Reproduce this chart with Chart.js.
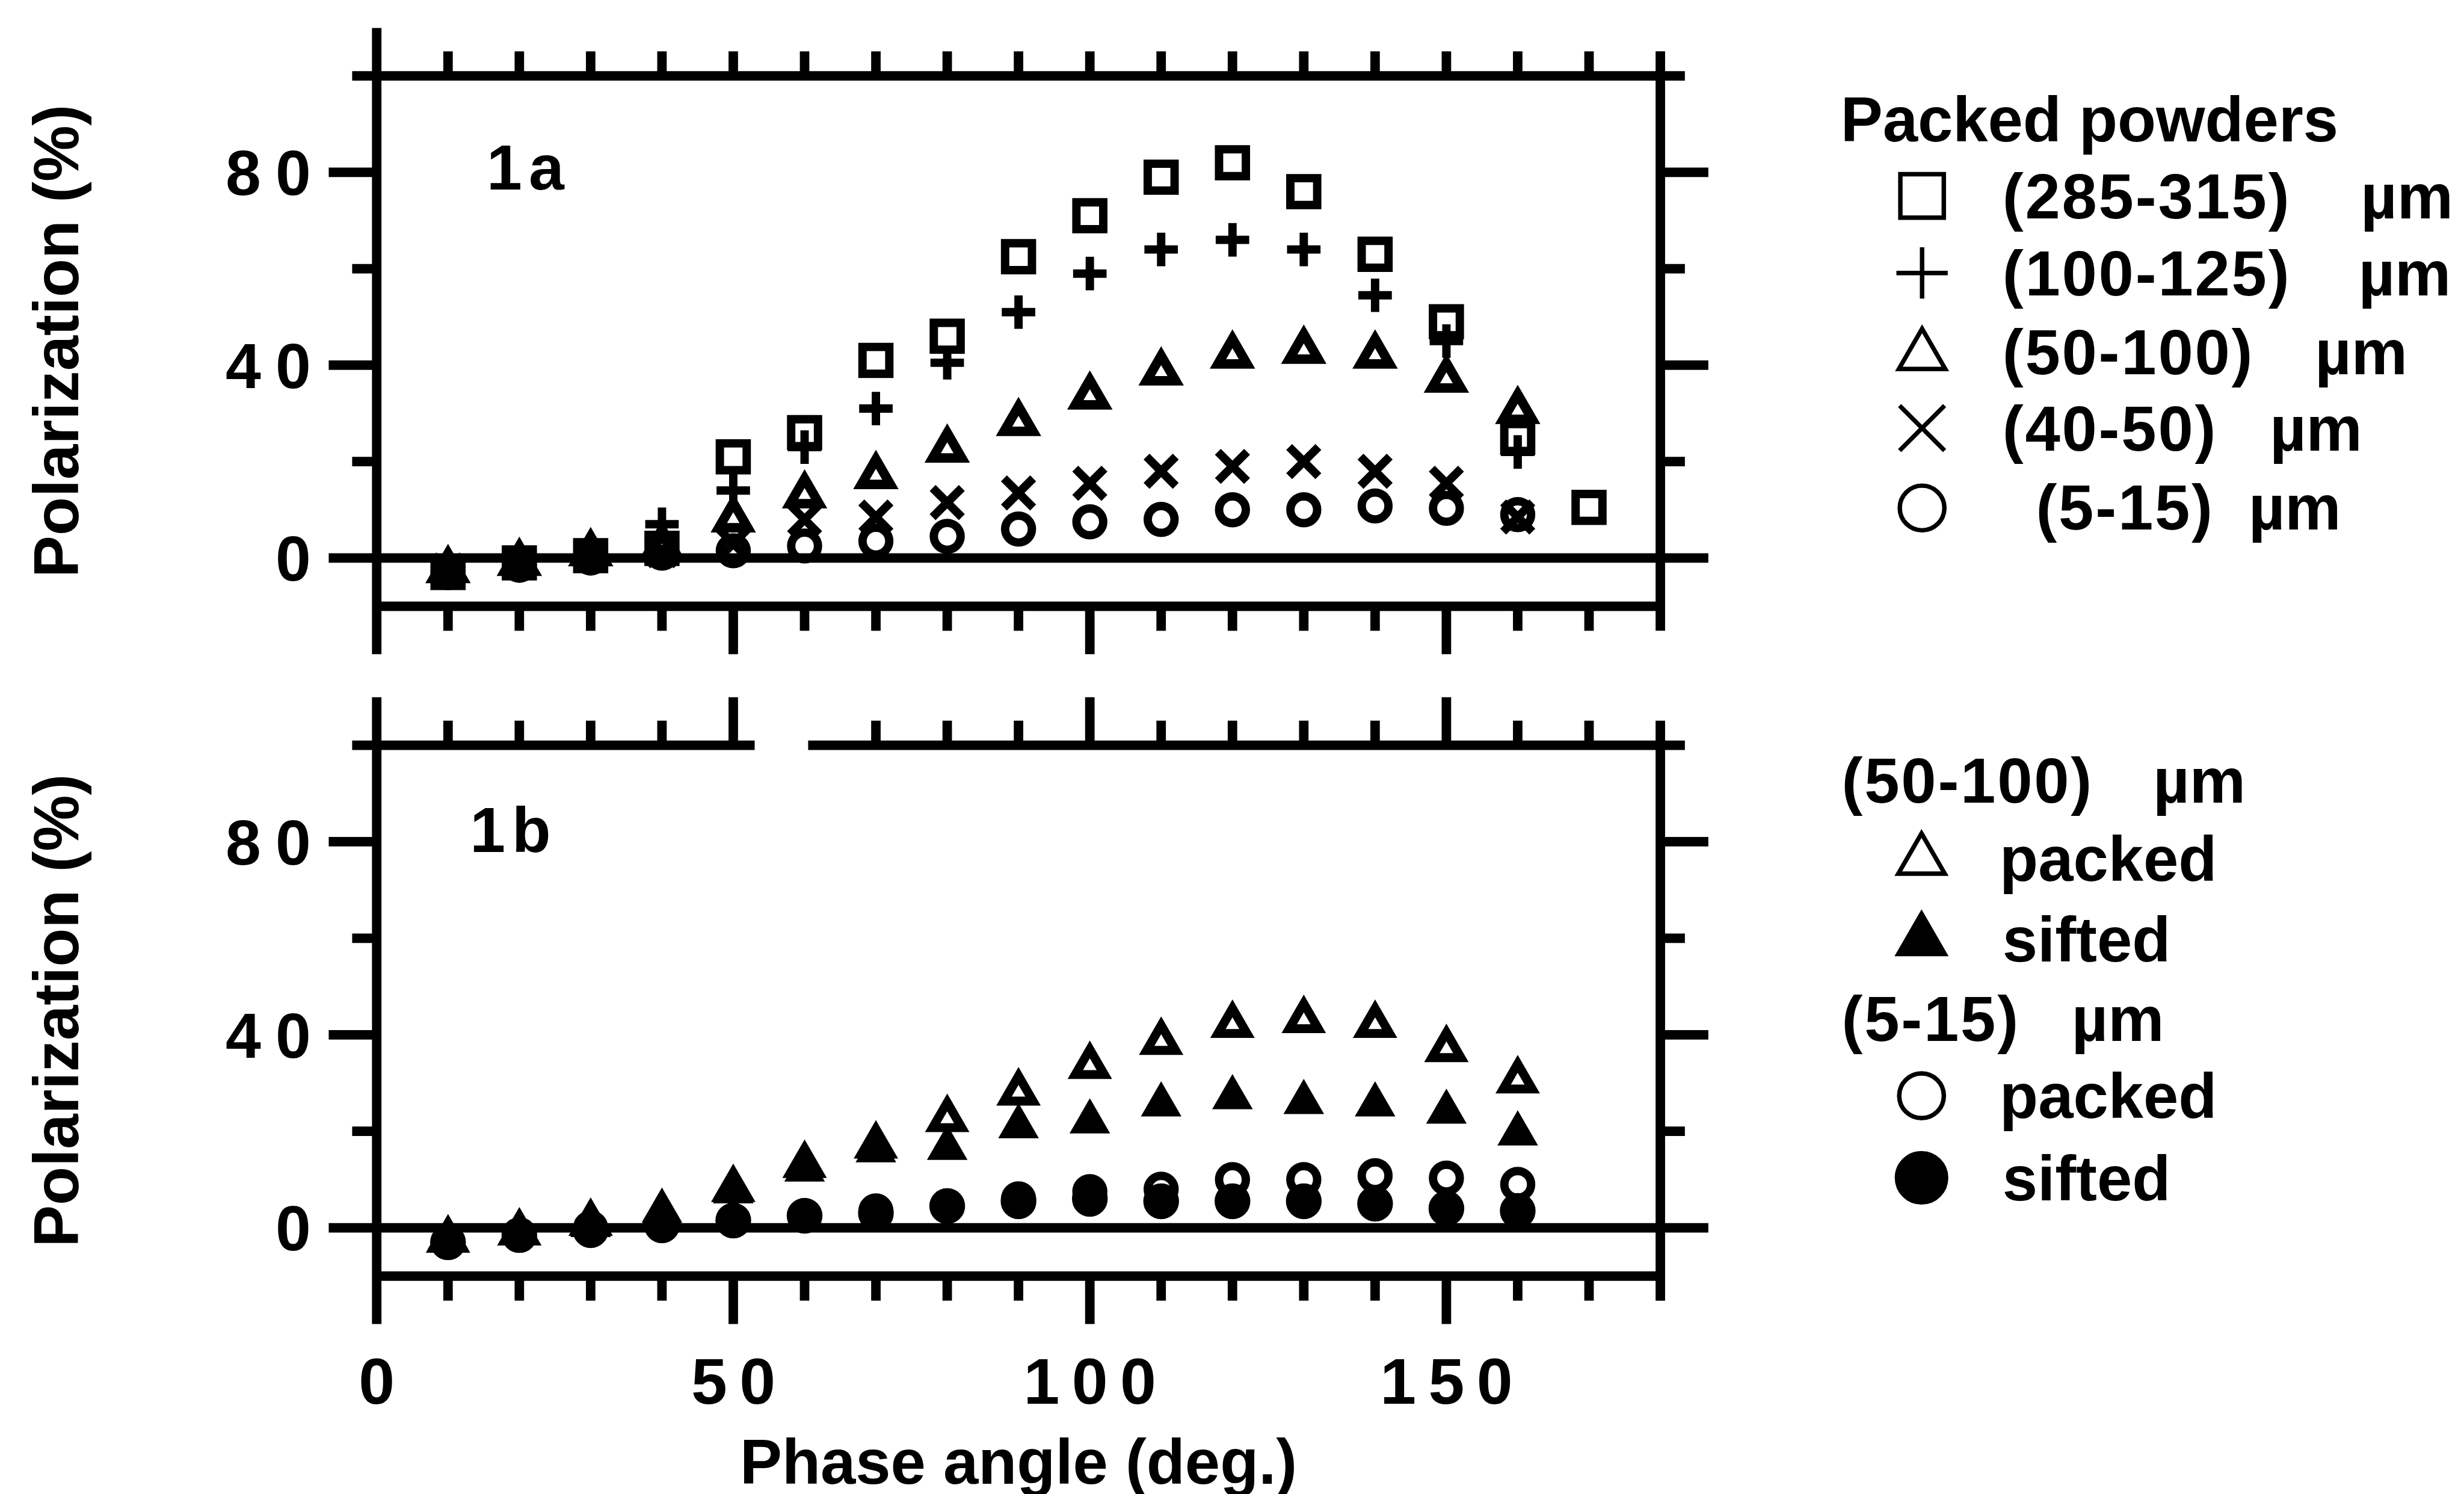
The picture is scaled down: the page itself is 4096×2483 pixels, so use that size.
<!DOCTYPE html>
<html>
<head>
<meta charset="utf-8">
<title>Polarization vs phase angle</title>
<script src="https://cdn.jsdelivr.net/npm/chart.js@4.4.1/dist/chart.umd.min.js"></script>
<style>
  html, body { margin: 0; padding: 0; background: #fff; }
  #wrap { position: relative; width: 4096px; height: 2483px; overflow: hidden; background: #fff; }
  #wrap canvas { position: absolute; left: 0; top: 0; }
</style>
</head>
<body>
<div id="wrap">
  <canvas id="panelA" width="4096" height="2483"></canvas>
  <canvas id="panelB" width="4096" height="2483"></canvas>
</div>
<script>
// page size and layout unit (layout numbers below are in units, scaled to px)
const W = 4096, H = 2483;
const U = 4096 / 4415;
const FONT = '"Liberation Sans", Arial, Helvetica, sans-serif';
const INK = '#000';

// phase angle (deg.)
const phase = [10, 20, 30, 40, 50, 60, 70, 80, 90, 100, 110, 120, 130, 140, 150, 160];
const phaseCoarse = [10, 20, 30, 40, 50, 60, 70, 80, 90, 100, 110, 120, 130, 140, 150, 160, 170];

// polarization (%) of packed powders, 1a
const pol285to315 = [-3, -1, 0.5, 2, 21, 26, 41, 46, 62.5, 71, 79, 82, 76, 63, 49, 25, 10.5];
const pol100to125 = [-3, -1, 1, 7, 14, 23, 31, 40.5, 51, 59, 64, 66, 64, 54.5, 45, 22];
const pol50to100Packed = [-2.5, -1, 1, 2.5, 8, 13, 17, 22.5, 28, 33.5, 38.5, 42, 43, 42, 37, 30.5];
const pol40to50 = [-2.5, -1, 0.5, 1.5, 3, 8, 8.5, 11.5, 13.5, 15.5, 18, 19, 20, 18, 15.5, 8.5];
const pol5to15Packed = [-3, -1.5, 0, 1, 1.5, 2.5, 3.5, 4.5, 6, 7.5, 8, 10, 10, 10.8, 10.3, 9];

// packed vs sifted, 1b
const pol50to100Sifted = [-2, -1, 0.5, 3.5, 7.5, 12, 16, 16.5, 21, 22, 25.5, 27, 26, 25.5, 24, 19.5];
const pol5to15Sifted = [-3, -1.5, -0.5, 0.5, 1.5, 2.5, 3, 4.5, 5.5, 6, 5.5, 5.5, 5.5, 5, 4, 3.5];

// axes
const xRange = [0, 180];
const yRange = [-10, 100];
const xLabelTicks = [0, 50, 100, 150];
const yLabelTicks = [0, 40, 80];
const xMinorStep = 10;
const yMinorStep = 20;

// plot boxes (units)
const plotLeft = 675, plotRight = 2975;
const boxA = { top: 136, bottom: 1086 };
const boxB = { top: 1335, bottom: 2286 };

const legendA = {
  markerX: 3444,
  items: [
    { text: 'Packed powders', x: 3298, base: 253 },
    { marker: 0, r: 55, cy: 351, text: '(285-315)', x: 3588, base: 391, unitX: 4230 },
    { marker: 1, r: 46, cy: 489, text: '(100-125)', x: 3588, base: 529, unitX: 4226 },
    { marker: 2, r: 48, cy: 637, text: '(50-100)', x: 3588, base: 670, unitX: 4148 },
    { marker: 3, r: 57, cy: 767, text: '(40-50)', x: 3588, base: 807, unitX: 4067 },
    { marker: 4, r: 40, cy: 910, text: '(5-15)', x: 3648, base: 948, unitX: 4029 }
  ]
};

const legendB = {
  markerX: 3443,
  items: [
    { text: '(50-100)', x: 3300, base: 1438, unitX: 3858 },
    { marker: 0, r: 48, cy: 1541, text: 'packed', x: 3583, base: 1578 },
    { marker: 1, r: 48, cy: 1685, text: 'sifted', x: 3588, base: 1722 },
    { text: '(5-15)', x: 3300, base: 1865, unitX: 3712 },
    { marker: 2, r: 40, cy: 1963, text: 'packed', x: 3583, base: 2003 },
    { marker: 3, r: 44, cy: 2110, text: 'sifted', x: 3588, base: 2150 }
  ]
};

const panels = {
  a: { tag: '1a', tagAt: [197, 204], longTopTicks: false, topGap: null, xAxisText: false, legend: legendA },
  b: { tag: '1b', tagAt: [167, 191], longTopTicks: true, topGap: [53, 60.5], xAxisText: true, legend: legendB }
};

function spacing(ctx, px) {
  if ('letterSpacing' in ctx) ctx.letterSpacing = px + 'px';
}

const framePlugin = {
  id: 'frame',
  beforeDatasetsDraw(chart, args, opts) {
    const p = panels[opts.panel];
    const ctx = chart.ctx;
    const xs = chart.scales.x, ys = chart.scales.y;
    const X = v => xs.getPixelForValue(v), Y = v => ys.getPixelForValue(v);
    const tShort = 44 * U, tLong = 86 * U;
    const x0 = X(xRange[0]), x1 = X(xRange[1]);
    const yT = Y(yRange[1]), yB = Y(yRange[0]), yZ = Y(0);
    const seg = (ax, ay, bx, by) => { ctx.beginPath(); ctx.moveTo(ax, ay); ctx.lineTo(bx, by); ctx.stroke(); };

    ctx.save();
    ctx.strokeStyle = INK;
    ctx.lineWidth = 17 * U;
    ctx.lineCap = 'butt';

    // box, with the top edge optionally broken
    if (p.topGap) {
      seg(x0 - tShort, yT, X(p.topGap[0]), yT);
      seg(X(p.topGap[1]), yT, x1 + tShort, yT);
    } else {
      seg(x0 - tShort, yT, x1 + tShort, yT);
    }
    seg(x0, yB, x1, yB);
    seg(x0, yT - tLong, x0, yB + tLong);
    seg(x1, yT - tShort, x1, yB + tShort);
    // zero line runs through both side ticks
    seg(x0 - tLong, yZ, x1 + tLong, yZ);

    for (let v = yRange[0] + 10 + yMinorStep; v < yRange[1]; v += yMinorStep) {
      const len = yLabelTicks.includes(v) ? tLong : tShort;
      seg(x0 - len, Y(v), x0, Y(v));
      seg(x1, Y(v), x1 + len, Y(v));
    }
    for (let v = xRange[0] + xMinorStep; v < xRange[1]; v += xMinorStep) {
      const major = xLabelTicks.includes(v);
      const hidden = p.topGap && v > p.topGap[0] && v < p.topGap[1];
      if (!hidden) {
        const up = (major && p.longTopTicks) ? tLong : tShort;
        seg(X(v), yT - up, X(v), yT);
      }
      seg(X(v), yB, X(v), yB + (major ? tLong : tShort));
    }
    ctx.restore();
  },
  afterDraw(chart, args, opts) {
    const p = panels[opts.panel];
    const ctx = chart.ctx;
    const xs = chart.scales.x, ys = chart.scales.y;
    const X = v => xs.getPixelForValue(v), Y = v => ys.getPixelForValue(v);
    const x0 = X(xRange[0]), x1 = X(xRange[1]);
    const yT = Y(yRange[1]), yB = Y(yRange[0]);

    ctx.save();
    ctx.fillStyle = INK;
    ctx.textBaseline = 'alphabetic';

    // y tick labels; spacing trails the last glyph, so shift by one gap
    let size = 114 * U, ls = 26 * U;
    ctx.font = `bold ${size}px ${FONT}`;
    spacing(ctx, ls);
    ctx.textAlign = 'right';
    yLabelTicks.forEach(v => {
      ctx.fillText(String(v), x0 - 118 * U + ls, Y(v) + 0.358 * size);
    });

    // x tick labels and axis title
    if (p.xAxisText) {
      size = 116 * U; ls = 22 * U;
      ctx.font = `bold ${size}px ${FONT}`;
      spacing(ctx, ls);
      ctx.textAlign = 'center';
      xLabelTicks.forEach(v => {
        ctx.fillText(String(v), X(v) + ls / 2, yB + 229 * U);
      });
      spacing(ctx, 0);
      ctx.font = `bold ${113 * U}px ${FONT}`;
      ctx.fillText('Phase angle (deg.)', (x0 + x1) / 2, yB + 372 * U);
    }

    // y axis title
    spacing(ctx, 0);
    ctx.font = `bold ${113 * U}px ${FONT}`;
    ctx.save();
    ctx.translate(140 * U, (yT + yB) / 2);
    ctx.rotate(-Math.PI / 2);
    ctx.textAlign = 'center';
    ctx.fillText('Polarization (%)', 0, 0);
    ctx.restore();

    // panel tag
    ctx.textAlign = 'left';
    ctx.font = `bold ${114 * U}px ${FONT}`;
    spacing(ctx, 12 * U);
    ctx.fillText(p.tag, x0 + p.tagAt[0] * U, yT + p.tagAt[1] * U);

    // legend
    const lg = p.legend;
    ctx.font = `bold ${113 * U}px ${FONT}`;
    lg.items.forEach(it => {
      if (it.marker != null) {
        const ds = chart.data.datasets[it.marker];
        ctx.save();
        ctx.lineWidth = 8 * U;
        ctx.strokeStyle = INK;
        ctx.fillStyle = ds.pointBackgroundColor;
        Chart.helpers.drawPoint(ctx, {
          pointStyle: ds.pointStyle, radius: it.r * U, rotation: 0, borderWidth: 8 * U
        }, lg.markerX * U, it.cy * U);
        ctx.restore();
      }
      spacing(ctx, it.unitX ? 3 * U : 0);
      ctx.fillText(it.text, it.x * U, it.base * U);
      if (it.unitX) {
        spacing(ctx, 0);
        ctx.fillText('µm', it.unitX * U, it.base * U);
      }
    });
    spacing(ctx, 0);
    ctx.restore();
  }
};

function series(label, xs, ys, style, radius, filled, border) {
  return {
    label: label,
    data: xs.map((x, i) => ({ x: x, y: ys[i] })),
    pointStyle: style,
    pointRadius: radius * U,
    pointHoverRadius: radius * U,
    pointBorderWidth: border * U,
    pointBorderColor: INK,
    pointBackgroundColor: filled ? INK : 'rgba(0,0,0,0)',
    showLine: false,
    clip: false
  };
}

function makeChart(id, datasets, box, panel) {
  return new Chart(document.getElementById(id), {
    type: 'scatter',
    data: { datasets: datasets },
    options: {
      responsive: false,
      animation: false,
      devicePixelRatio: 1,
      events: [],
      layout: {
        padding: {
          left: plotLeft * U,
          right: W - plotRight * U,
          top: box.top * U,
          bottom: H - box.bottom * U
        }
      },
      scales: {
        x: { type: 'linear', min: xRange[0], max: xRange[1], display: false },
        y: { type: 'linear', min: yRange[0], max: yRange[1], display: false }
      },
      plugins: {
        legend: { display: false },
        tooltip: { enabled: false },
        frame: { panel: panel }
      }
    },
    plugins: [framePlugin]
  });
}

makeChart('panelA', [
  series('(285-315) µm', phaseCoarse, pol285to315, 'rect', 34, false, 15),
  series('(100-125) µm', phase, pol100to125, 'cross', 30, false, 15),
  series('(50-100) µm', phase, pol50to100Packed, 'triangle', 30, false, 17),
  series('(40-50) µm', phase, pol40to50, 'crossRot', 37, false, 15),
  series('(5-15) µm', phase, pol5to15Packed, 'circle', 24, false, 15)
], boxA, 'a');

makeChart('panelB', [
  series('(50-100) µm packed', phase, pol50to100Packed, 'triangle', 30, false, 16),
  series('(50-100) µm sifted', phase, pol50to100Sifted, 'triangle', 30, true, 12),
  series('(5-15) µm packed', phase, pol5to15Packed, 'circle', 24, false, 15),
  series('(5-15) µm sifted', phase, pol5to15Sifted, 'circle', 28, true, 8)
], boxB, 'b');
</script>
</body>
</html>
